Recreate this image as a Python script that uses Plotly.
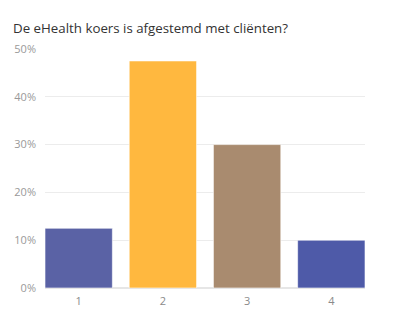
import plotly.graph_objects as go

categories = ["1", "2", "3", "4"]
values = [12.5, 47.5, 30, 10]
colors = ["#5A62A5", "#FFB83F", "#A98B6F", "#4E5AA8"]
title = "De eHealth koers is afgestemd met cliënten?"
ytick_vals = [0, 10, 20, 30, 40, 50]
ytick_text = ["0%", "10%", "20%", "30%", "40%", "50%"]

fig = go.Figure(go.Bar(
    x=categories, y=values,
    marker=dict(color=colors, line=dict(color="rgba(255,255,255,0.6)", width=1)),
    width=0.8,
))
fig.update_layout(
    width=399, height=313,
    margin=dict(l=45, r=34, t=49, b=25),
    paper_bgcolor="white", plot_bgcolor="white",
    font=dict(family="Open Sans, Noto Sans, sans-serif", color="#999999", size=11),
    title=dict(text=title, x=13/399, xanchor="left", y=1-28/313, yanchor="middle",
               font=dict(size=13.3, color="#333333")),
    showlegend=False,
)
fig.update_xaxes(range=[-0.4, 3.4], showgrid=False, showline=False, ticks="",
                 ticklabelstandoff=5, automargin=False,
                 tickfont=dict(size=11, color="#8a8a8a"))
fig.update_yaxes(range=[0, 50], tickvals=ytick_vals, ticktext=ytick_text,
                 gridcolor="#ececec", gridwidth=1, zeroline=True, zerolinecolor="#e6e6e6",
                 showline=False, ticks="", ticklabelstandoff=8, automargin=False,
                 tickfont=dict(size=11, color="#999999"))
fig.write_html("out.html")
